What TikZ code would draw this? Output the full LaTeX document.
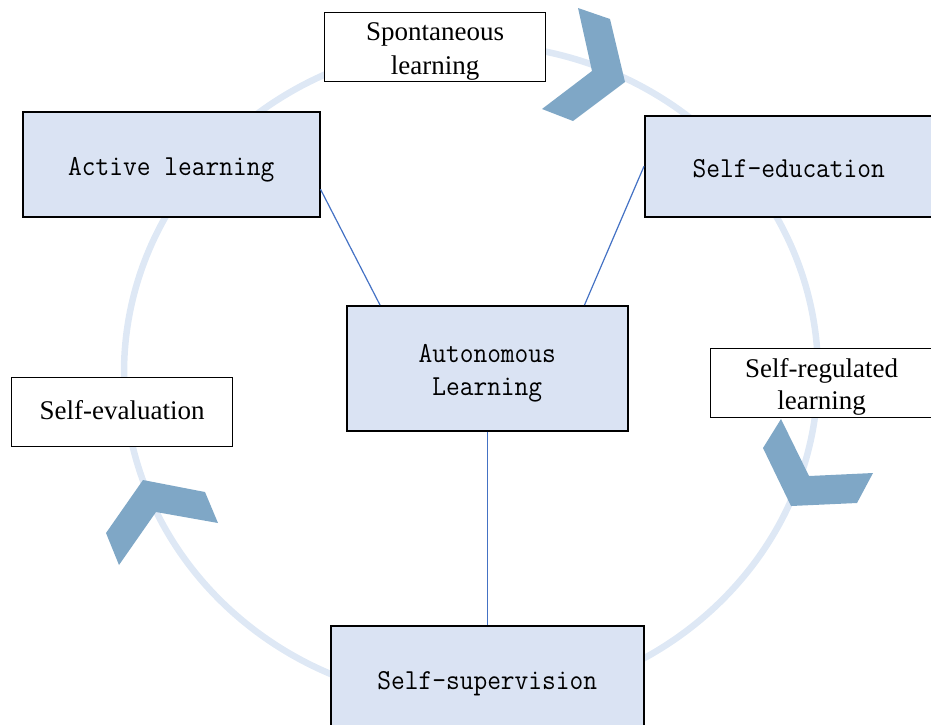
\documentclass[tikz,border=0pt]{standalone}
\usepackage{fontspec}
\setmainfont{Liberation Serif}
\usetikzlibrary{positioning}
\definecolor{boxfill}{HTML}{DAE3F3}
\definecolor{ringc}{HTML}{DEE8F5}
\definecolor{chev}{HTML}{7FA7C6}
\definecolor{linkc}{HTML}{4472C4}
\tikzset{
  bluebox/.style={draw=black, line width=1.5pt, fill=boxfill, inner sep=0pt, anchor=north west,
    font=\ttfamily\fontsize{29}{34}\selectfont},
  whitebox/.style={draw=black, line width=1.3pt, fill=white, inner sep=0pt, anchor=north west,
    font=\fontsize{27}{33}\selectfont},
  chevshape/.style={fill=chev, draw=none},
  link/.style={draw=linkc, line width=1.2pt},
}
\newcommand{\mtext}[1]{\raisebox{-4pt}[\height][\depth]{\scalebox{0.92}[1]{\begin{tabular}{@{}c@{}}#1\end{tabular}}}}
\newcommand{\stext}[2][-4pt]{\raisebox{#1}[\height][\depth]{\begin{tabular}{@{}c@{}}#2\end{tabular}}}
\begin{document}
\begin{tikzpicture}[x=1pt,y=-1pt]
\useasboundingbox (0,0) rectangle (931,724);
% ring
\draw[ringc, line width=6.5pt] (471,373) ellipse [x radius=347, y radius=329];
% chevrons
\fill[chevshape] (578,8) -- (610,19) -- (625,82) -- (573,121) -- (542,109) -- (592,71) -- cycle;
\fill[chevshape] (781,419) -- (763,448) -- (791,506) -- (857,503) -- (873,473) -- (809,476) -- cycle;
\fill[chevshape] (143,480) -- (205,492) -- (218,523) -- (156,512) -- (119,565) -- (106,533) -- cycle;
% boxes
\node[whitebox, minimum width=221pt, minimum height=69pt] (sp) at (324,12) {\stext{Spontaneous\\[1pt]learning}};
\node[bluebox, minimum width=297pt, minimum height=105pt] (al) at (22,111) {\mtext{Active learning}};
\node[bluebox, minimum width=288pt, minimum height=101pt] (se) at (644,115) {\mtext{Self-education}};
\node[bluebox, minimum width=281pt, minimum height=125pt] (au) at (346,305) {\mtext{Autonomous\\[-1pt]Learning}};
\node[whitebox, minimum width=222pt, minimum height=69pt] (sr) at (710,348) {\stext{Self-regulated\\[-1pt]learning}};
\node[whitebox, minimum width=221pt, minimum height=69pt] (sv) at (11,377) {\stext[-1pt]{Self-evaluation}};
\node[bluebox, minimum width=313pt, minimum height=106pt] (ss) at (330,625) {\mtext{Self-supervision}};
% links
\draw[link] ([yshift=-25pt]al.east) -- ([xshift=34pt]au.north west);
\draw[link] (se.west) -- ([xshift=-44pt]au.north east);
\draw[link] (au.south) -- (ss.north);
\end{tikzpicture}
\end{document}
